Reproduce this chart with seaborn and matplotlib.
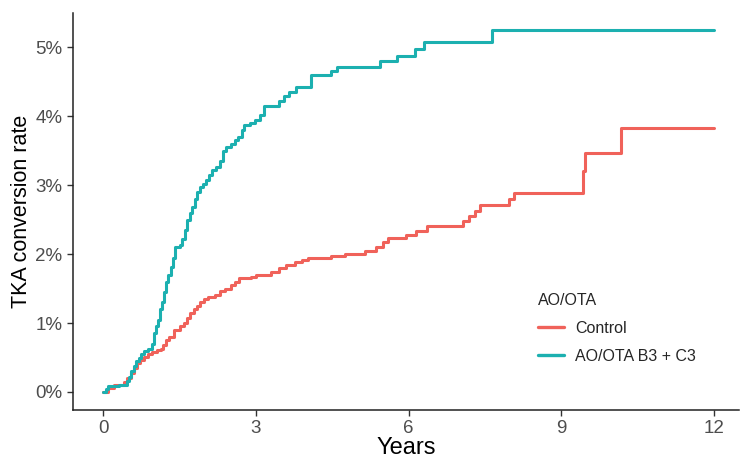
import matplotlib
matplotlib.use("Agg")
import matplotlib.pyplot as plt
import seaborn as sns
import pandas as pd

# ---- data (percent, step functions) ----
group_names = ["Control", "AO/OTA B3 + C3"]

control_years = [0, 0.1, 0.2, 0.4, 0.47, 0.55, 0.6, 0.66, 0.72, 0.8, 0.88, 0.95, 1.05, 1.13,
                 1.18, 1.23, 1.3, 1.39, 1.5, 1.58, 1.64, 1.7, 1.78, 1.84, 1.9, 1.97, 2.05, 2.2,
                 2.3, 2.4, 2.5, 2.58, 2.66, 2.9, 3.0, 3.3, 3.45, 3.6, 3.76, 3.9, 4.02, 4.47,
                 4.75, 5.14, 5.35, 5.5, 5.6, 5.95, 6.15, 6.37, 7.07, 7.18, 7.3, 7.4, 7.97, 8.07,
                 9.43, 9.46, 10.17, 12.0]
control_rate = [0, 0.06, 0.1, 0.15, 0.2, 0.28, 0.35, 0.42, 0.47, 0.51, 0.55, 0.58, 0.61, 0.62,
                0.68, 0.75, 0.8, 0.9, 0.95, 1.0, 1.08, 1.14, 1.2, 1.25, 1.3, 1.35, 1.38, 1.41,
                1.46, 1.5, 1.55, 1.6, 1.65, 1.67, 1.7, 1.74, 1.8, 1.84, 1.89, 1.92, 1.95, 1.97,
                2.0, 2.04, 2.1, 2.17, 2.23, 2.28, 2.33, 2.41, 2.48, 2.55, 2.63, 2.71, 2.8, 2.88,
                3.2, 3.46, 3.83, 3.83]

b3c3_years = [0, 0.05, 0.1, 0.3, 0.47, 0.5, 0.55, 0.6, 0.65, 0.7, 0.75, 0.8, 0.88, 0.95, 1.0,
              1.04, 1.08, 1.12, 1.16, 1.2, 1.24, 1.28, 1.33, 1.37, 1.41, 1.5, 1.55, 1.6, 1.65,
              1.7, 1.75, 1.8, 1.85, 1.9, 1.96, 2.02, 2.08, 2.14, 2.22, 2.3, 2.36, 2.42, 2.5,
              2.58, 2.64, 2.72, 2.76, 2.88, 2.98, 3.08, 3.15, 3.45, 3.55, 3.65, 3.78, 4.08,
              4.47, 4.6, 5.43, 5.78, 6.13, 6.3, 7.64, 12.0]
b3c3_rate = [0, 0.05, 0.08, 0.1, 0.16, 0.22, 0.3, 0.38, 0.45, 0.5, 0.55, 0.6, 0.62, 0.7, 0.86,
             0.95, 1.05, 1.2, 1.3, 1.45, 1.6, 1.7, 1.82, 1.95, 2.1, 2.13, 2.22, 2.35, 2.5,
             2.6, 2.68, 2.8, 2.9, 2.97, 3.02, 3.08, 3.15, 3.22, 3.27, 3.35, 3.5, 3.55, 3.6,
             3.65, 3.7, 3.8, 3.87, 3.9, 3.95, 4.02, 4.15, 4.22, 4.3, 4.35, 4.42, 4.6,
             4.65, 4.72, 4.8, 4.88, 4.98, 5.07, 5.25, 5.25]

x_ticks = [0, 3, 6, 9, 12]
y_ticks = [0, 1, 2, 3, 4, 5]
y_tick_labels = ["0%", "1%", "2%", "3%", "4%", "5%"]

df = pd.concat([
    pd.DataFrame({"Years": control_years, "rate": control_rate, "AO/OTA": group_names[0]}),
    pd.DataFrame({"Years": b3c3_years, "rate": b3c3_rate, "AO/OTA": group_names[1]}),
], ignore_index=True)

sns.set_style("white")
plt.rcParams["font.family"] = ["Liberation Sans", "DejaVu Sans"]

fig = plt.figure(figsize=(7.43, 4.59), dpi=100)
ax = fig.add_axes([0.098, 0.107, 0.897, 0.865])

palette = {group_names[0]: "#F0625A", group_names[1]: "#1CB0B0"}
sns.lineplot(data=df, x="Years", y="rate", hue="AO/OTA", hue_order=group_names,
             palette=palette, drawstyle="steps-post", linewidth=2.2,
             estimator=None, ax=ax)

ax.set_xlim(-0.6, 12.5)
ax.set_ylim(-0.26, 5.5)
ax.set_xticks(x_ticks)
ax.set_xticklabels([str(t) for t in x_ticks])
ax.set_yticks(y_ticks)
ax.set_yticklabels(y_tick_labels)
ax.tick_params(axis="both", which="both", direction="out", length=4.5, width=1,
               color="#333333", labelsize=13.5, labelcolor="#4d4d4d", pad=3,
               bottom=True, left=True)
ax.set_xlabel("Years", fontsize=17, color="black", labelpad=0)
ax.set_ylabel("TKA conversion rate", fontsize=15.5, color="black", labelpad=2.5)

for s in ["top", "right"]:
    ax.spines[s].set_visible(False)
for s in ["left", "bottom"]:
    ax.spines[s].set_color("#222222")
    ax.spines[s].set_linewidth(1.1)
ax.grid(False)

handles, labels = ax.get_legend_handles_labels()
leg = ax.legend(handles, labels, title="AO/OTA", frameon=False, loc="upper left",
                bbox_to_anchor=(0.705, 0.392), bbox_transform=fig.transFigure,
                fontsize=11.5, title_fontsize=11.5, handlelength=1.6,
                labelspacing=0.8, handletextpad=0.7)
leg._legend_box.align = "left"
leg._legend_box.sep = 9
for h in leg.get_lines():
    h.set_linewidth(2.4)

fig.savefig("out.png", dpi=100)
